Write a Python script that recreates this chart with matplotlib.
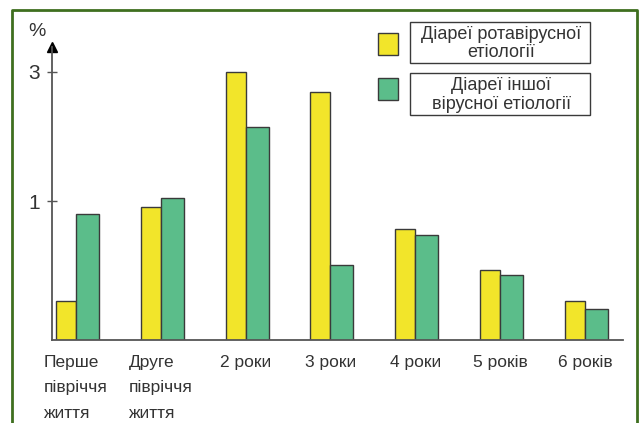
import matplotlib
matplotlib.use("Agg")
import matplotlib.pyplot as plt
from matplotlib import font_manager
from matplotlib.patches import Rectangle
from matplotlib.lines import Line2D
import numpy as np

names = {f.name for f in font_manager.fontManager.ttflist}
fam = "Liberation Sans Narrow" if "Liberation Sans Narrow" in names else "Liberation Sans"
plt.rcParams['font.family'] = [fam, 'DejaVu Sans']

categories = ["Перше\nпівріччя\nжиття", "Друге\nпівріччя\nжиття", "2 роки", "3 роки",
              "4 роки", "5 років", "6 років"]
rota = [0.43, 0.95, 3.0, 2.53, 0.79, 0.56, 0.43]
other = [0.90, 1.03, 1.88, 0.58, 0.75, 0.535, 0.40]
yticks = [1, 3]
legend_labels = ["Діареї ротавірусної\nетіології", "Діареї іншої\nвірусної етіології"]

YELLOW = "#f2e52a"
GREEN = "#5bbd8a"
EDGE = "#3a3a3a"
BORDER = "#3f6f1f"
TXT = "#333333"

W, H = 641, 423
fig = plt.figure(figsize=(W/100, H/100), dpi=100)
fig.patch.set_facecolor("white")

def fx(px): return px / W
def fy(py): return 1 - py / H

ax_left, ax_right, ax_top, ax_bot = 52, 623, 47, 340
ax = fig.add_axes([fx(ax_left), fy(ax_bot), fx(ax_right - ax_left), (ax_bot - ax_top) / H])

x = np.arange(len(categories))
wy, wg = 0.236, 0.271
ax.bar(x - wy, rota, width=wy, align='edge', color=YELLOW, edgecolor=EDGE, linewidth=1.0)
ax.bar(x, other, width=wg, align='edge', color=GREEN, edgecolor=EDGE, linewidth=1.0)

ax.set_yscale('log')
ax.set_ylim(0.308, 3.7)
ax.set_xlim(-0.283, 6.45)
ax.set_yticks(yticks)
ax.set_yticklabels([str(t) for t in yticks], fontsize=15, color=TXT)
ax.yaxis.set_minor_locator(matplotlib.ticker.NullLocator())
ax.tick_params(axis='y', direction='inout', length=7, width=1, color="#555555", pad=5)
ax.set_xticks(x)
ax.set_xticklabels(categories, fontsize=12.5, color=TXT, linespacing=1.85,
                   multialignment='left', va='top')
ax.tick_params(axis='x', length=0, pad=11)
for s in ['top', 'right']:
    ax.spines[s].set_visible(False)
for s in ['left', 'bottom']:
    ax.spines[s].set_color("#555555")
    ax.spines[s].set_linewidth(1.3)
ax.plot([0], [1], transform=ax.transAxes, marker='^', color='black', markersize=7, clip_on=False)
fig.text(fx(37), fy(32), "%", fontsize=14, color=TXT, ha='center', va='center')

# legend
sq = [(378, 33, 20, 22, YELLOW), (378, 78, 20, 22, GREEN)]
for (px, py, w, h, c) in sq:
    fig.add_artist(Rectangle((fx(px), fy(py + h)), fx(w), h / H, facecolor=c,
                             edgecolor=EDGE, linewidth=1.0, transform=fig.transFigure))
boxes = [(410, 22, 180, 41), (410, 73, 180, 42)]
for (px, py, w, h), lab in zip(boxes, legend_labels):
    fig.add_artist(Rectangle((fx(px), fy(py + h)), fx(w), h / H, facecolor='white',
                             edgecolor=EDGE, linewidth=1.0, transform=fig.transFigure))
    fig.text(fx(px + w / 2 + 1), fy(py + h / 2 + 1), lab, fontsize=13, color=TXT,
             ha='center', va='center', linespacing=1.1)

# border
fig.add_artist(Line2D([fx(12), fx(12), fx(637), fx(637)], [0, fy(10), fy(10), 0],
                      color=BORDER, linewidth=2, transform=fig.transFigure))

fig.savefig("out.png", dpi=100)
